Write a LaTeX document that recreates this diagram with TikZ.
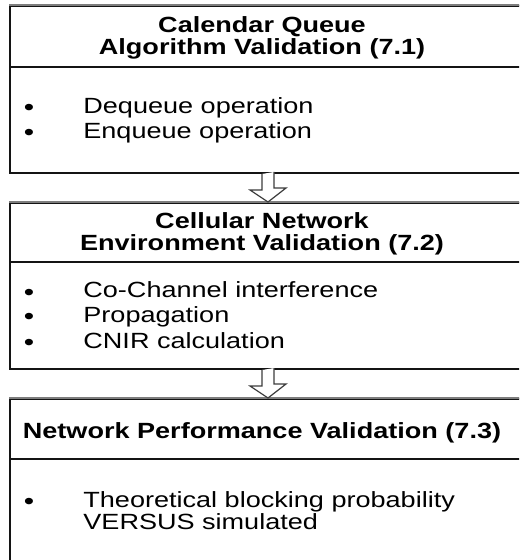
\documentclass[tikz,border=0pt]{standalone}
\usepackage{fontspec}
\setmainfont{Liberation Sans}[FakeStretch=1.23]
\usetikzlibrary{positioning, calc}
\definecolor{vdLine}{RGB}{20, 20, 20}
\definecolor{vdEdge}{RGB}{125, 125, 125}
\definecolor{vdArrow}{RGB}{60, 60, 60}
\tikzset{
    base/.style={
        font=\fontsize{11}{13}\selectfont,
        inner sep=0pt
    },
    heading/.style={
        base,
        font=\fontsize{11}{13}\selectfont\bfseries,
        anchor=base
    },
    item/.style={
        base,
        anchor=base west
    },
    dot/.style={
        base,
        font=\fontsize{12}{12}\selectfont,
        text height=6pt,
        text depth=0pt,
        anchor=base
    },
    stage/.style={
        rectangle,
        draw=vdLine,
        line width=1pt,
        minimum width=258pt,
        anchor=north west,
        inner sep=0pt
    },
    rule/.style={
        draw=vdLine,
        line width=1pt
    },
    topedge/.style={
        draw=vdEdge,
        line width=1.2pt
    },
    flow/.style={
        draw=vdArrow,
        line width=0.6pt,
        fill=white
    }
}

\begin{document}
\begin{tikzpicture}[x=0.5pt, y=-0.5pt]
  \useasboundingbox (0,0) rectangle (519,560);
  \clip (0,0) rectangle (519,560);

  % Stages
  \node[stage, minimum height=83.5pt] (cq) at (9,5) {};
  \node[stage, minimum height=83pt] (cn) at (9,202) {};
  \node[stage, minimum height=100pt] (np) at (9,398) {};
  \draw[topedge] (cq.north west) -- (cq.north east);
  \draw[topedge] (cn.north west) -- (cn.north east);
  \draw[topedge] (np.north west) -- (np.north east);

  % Header rules
  \draw[rule] ($(cq.north west)+(0,62)$) -- ($(cq.north east)+(0,62)$);
  \draw[rule] ($(cn.north west)+(0,60)$) -- ($(cn.north east)+(0,60)$);
  \draw[rule] ($(np.north west)+(0,61)$) -- ($(np.north east)+(0,61)$);

  % Stage 7.1
  \node[heading] (cqh1) at (262,33) {Calendar Queue};
  \node[heading] (cqh2) at (262,55) {Algorithm Validation (7.1)};
  \node[dot] (cqd1) at (29,116) {•};
  \node[item] (cqi1) at (83,114) {Dequeue operation};
  \node[dot] (cqd2) at (29,141) {•};
  \node[item] (cqi2) at (83,139) {Enqueue operation};

  % Stage 7.2
  \node[heading] (cnh1) at (262,229) {Cellular Network};
  \node[heading] (cnh2) at (262,251) {Environment Validation (7.2)};
  \node[dot] (cnd1) at (29,300) {•};
  \node[item] (cni1) at (83,298) {Co-Channel interference};
  \node[dot] (cnd2) at (29,324) {•};
  \node[item] (cni2) at (83,322) {Propagation};
  \node[dot] (cnd3) at (29,350) {•};
  \node[item] (cni3) at (83,348) {CNIR calculation};

  % Stage 7.3
  \node[heading] (nph1) at (262,438) {Network Performance Validation (7.3)};
  \node[dot] (npd1) at (29,509) {•};
  \node[item] (npi1) at (83,507) {Theoretical blocking probability};
  \node[item] (npi2) at (83,529) {VERSUS simulated};

  % Block arrows between stages
  \draw[flow] ($(cq.south)+(-6,0)$) -- ++(0,16) -- ++(-12,0) -- (cn.north)
    -- ++(18,-14) -- ++(-12,0) -- ++(0,-16);
  \draw[flow] ($(cn.south)+(-6,0)$) -- ++(0,16) -- ++(-12,0) -- (np.north)
    -- ++(18,-14) -- ++(-12,0) -- ++(0,-16);
\end{tikzpicture}
\end{document}
